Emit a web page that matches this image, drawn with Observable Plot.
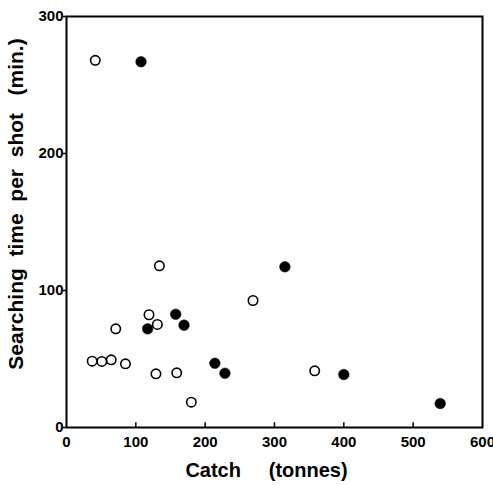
<!DOCTYPE html>
<html>
<head>
<meta charset="utf-8">
<script src="https://cdn.jsdelivr.net/npm/d3@7"></script>
<script src="https://cdn.jsdelivr.net/npm/@observablehq/plot@0.6"></script>
<style>
  html, body { margin: 0; padding: 0; background: #fff; }
  svg { font-family: "Liberation Sans", Arial, sans-serif; font-weight: bold; }
</style>
</head>
<body>
<div id="chart"></div>
<script>
const openCatch = [41.5, 134, 269, 119, 131, 71, 37, 51, 64.5, 85, 129, 159, 180, 358];
const openTime  = [268, 118, 92.7, 82.3, 75.2, 72, 48.4, 48.2, 49.4, 46.5, 39.2, 39.9, 18.5, 41.4];
const filledCatch = [107.5, 315, 157.5, 169.5, 117, 214, 228.5, 400, 539];
const filledTime  = [267, 117.3, 82.7, 74.7, 72, 46.9, 39.6, 38.7, 17.5];
const xTicks = [0, 100, 200, 300, 400, 500, 600];
const yTicks = [0, 100, 200, 300];
const xLabel = "Catch\u00A0\u00A0\u00A0\u00A0\u00A0(tonnes)";
const yLabel = "Searching\u00A0\u00A0time\u00A0\u00A0per\u00A0\u00A0shot\u00A0\u00A0\u00A0(min.)";

const openPts = openCatch.map((c, i) => ({catch: c, time: openTime[i]}));
const filledPts = filledCatch.map((c, i) => ({catch: c, time: filledTime[i]}));

const chart = Plot.plot({
  width: 493,
  height: 485,
  marginLeft: 66,
  marginRight: 11,
  marginTop: 16,
  marginBottom: 58,
  style: {fontFamily: "Liberation Sans, Arial, sans-serif", fontWeight: "bold", background: "#fff", color: "#000"},
  x: {domain: [0, 600]},
  y: {domain: [0, 300]},
  marks: [
    Plot.frame({stroke: "#000", strokeWidth: 2}),
    Plot.ruleX(xTicks.slice(1, -1), {y1: 0, y2: 3.5, stroke: "#000", strokeWidth: 1.5}),
    Plot.axisX({ticks: xTicks, tickSize: 0, tickPadding: 9, fontSize: 15, label: null}),
    Plot.axisY({ticks: yTicks, tickSize: 3, tickPadding: 0, fontSize: 15, label: null, strokeWidth: 1.5}),
    Plot.dot(openPts, {x: "catch", y: "time", r: 4.7, fill: "#fff", stroke: "#000", strokeWidth: 1.6}),
    Plot.dot(filledPts, {x: "catch", y: "time", r: 5.3, fill: "#000", stroke: "#000", strokeWidth: 0.5}),
    Plot.text([xLabel], {text: d => d, frameAnchor: "bottom", textAnchor: "middle", dx: -8, dy: 43, fontSize: 20, fontWeight: "bold", lineAnchor: "middle"}),
    Plot.text([yLabel], {text: d => d, frameAnchor: "left", textAnchor: "middle", rotate: -90, dx: -50, dy: -18, fontSize: 21, fontWeight: "bold", lineAnchor: "middle"})
  ]
});
document.getElementById("chart").appendChild(chart);
</script>
</body>
</html>
